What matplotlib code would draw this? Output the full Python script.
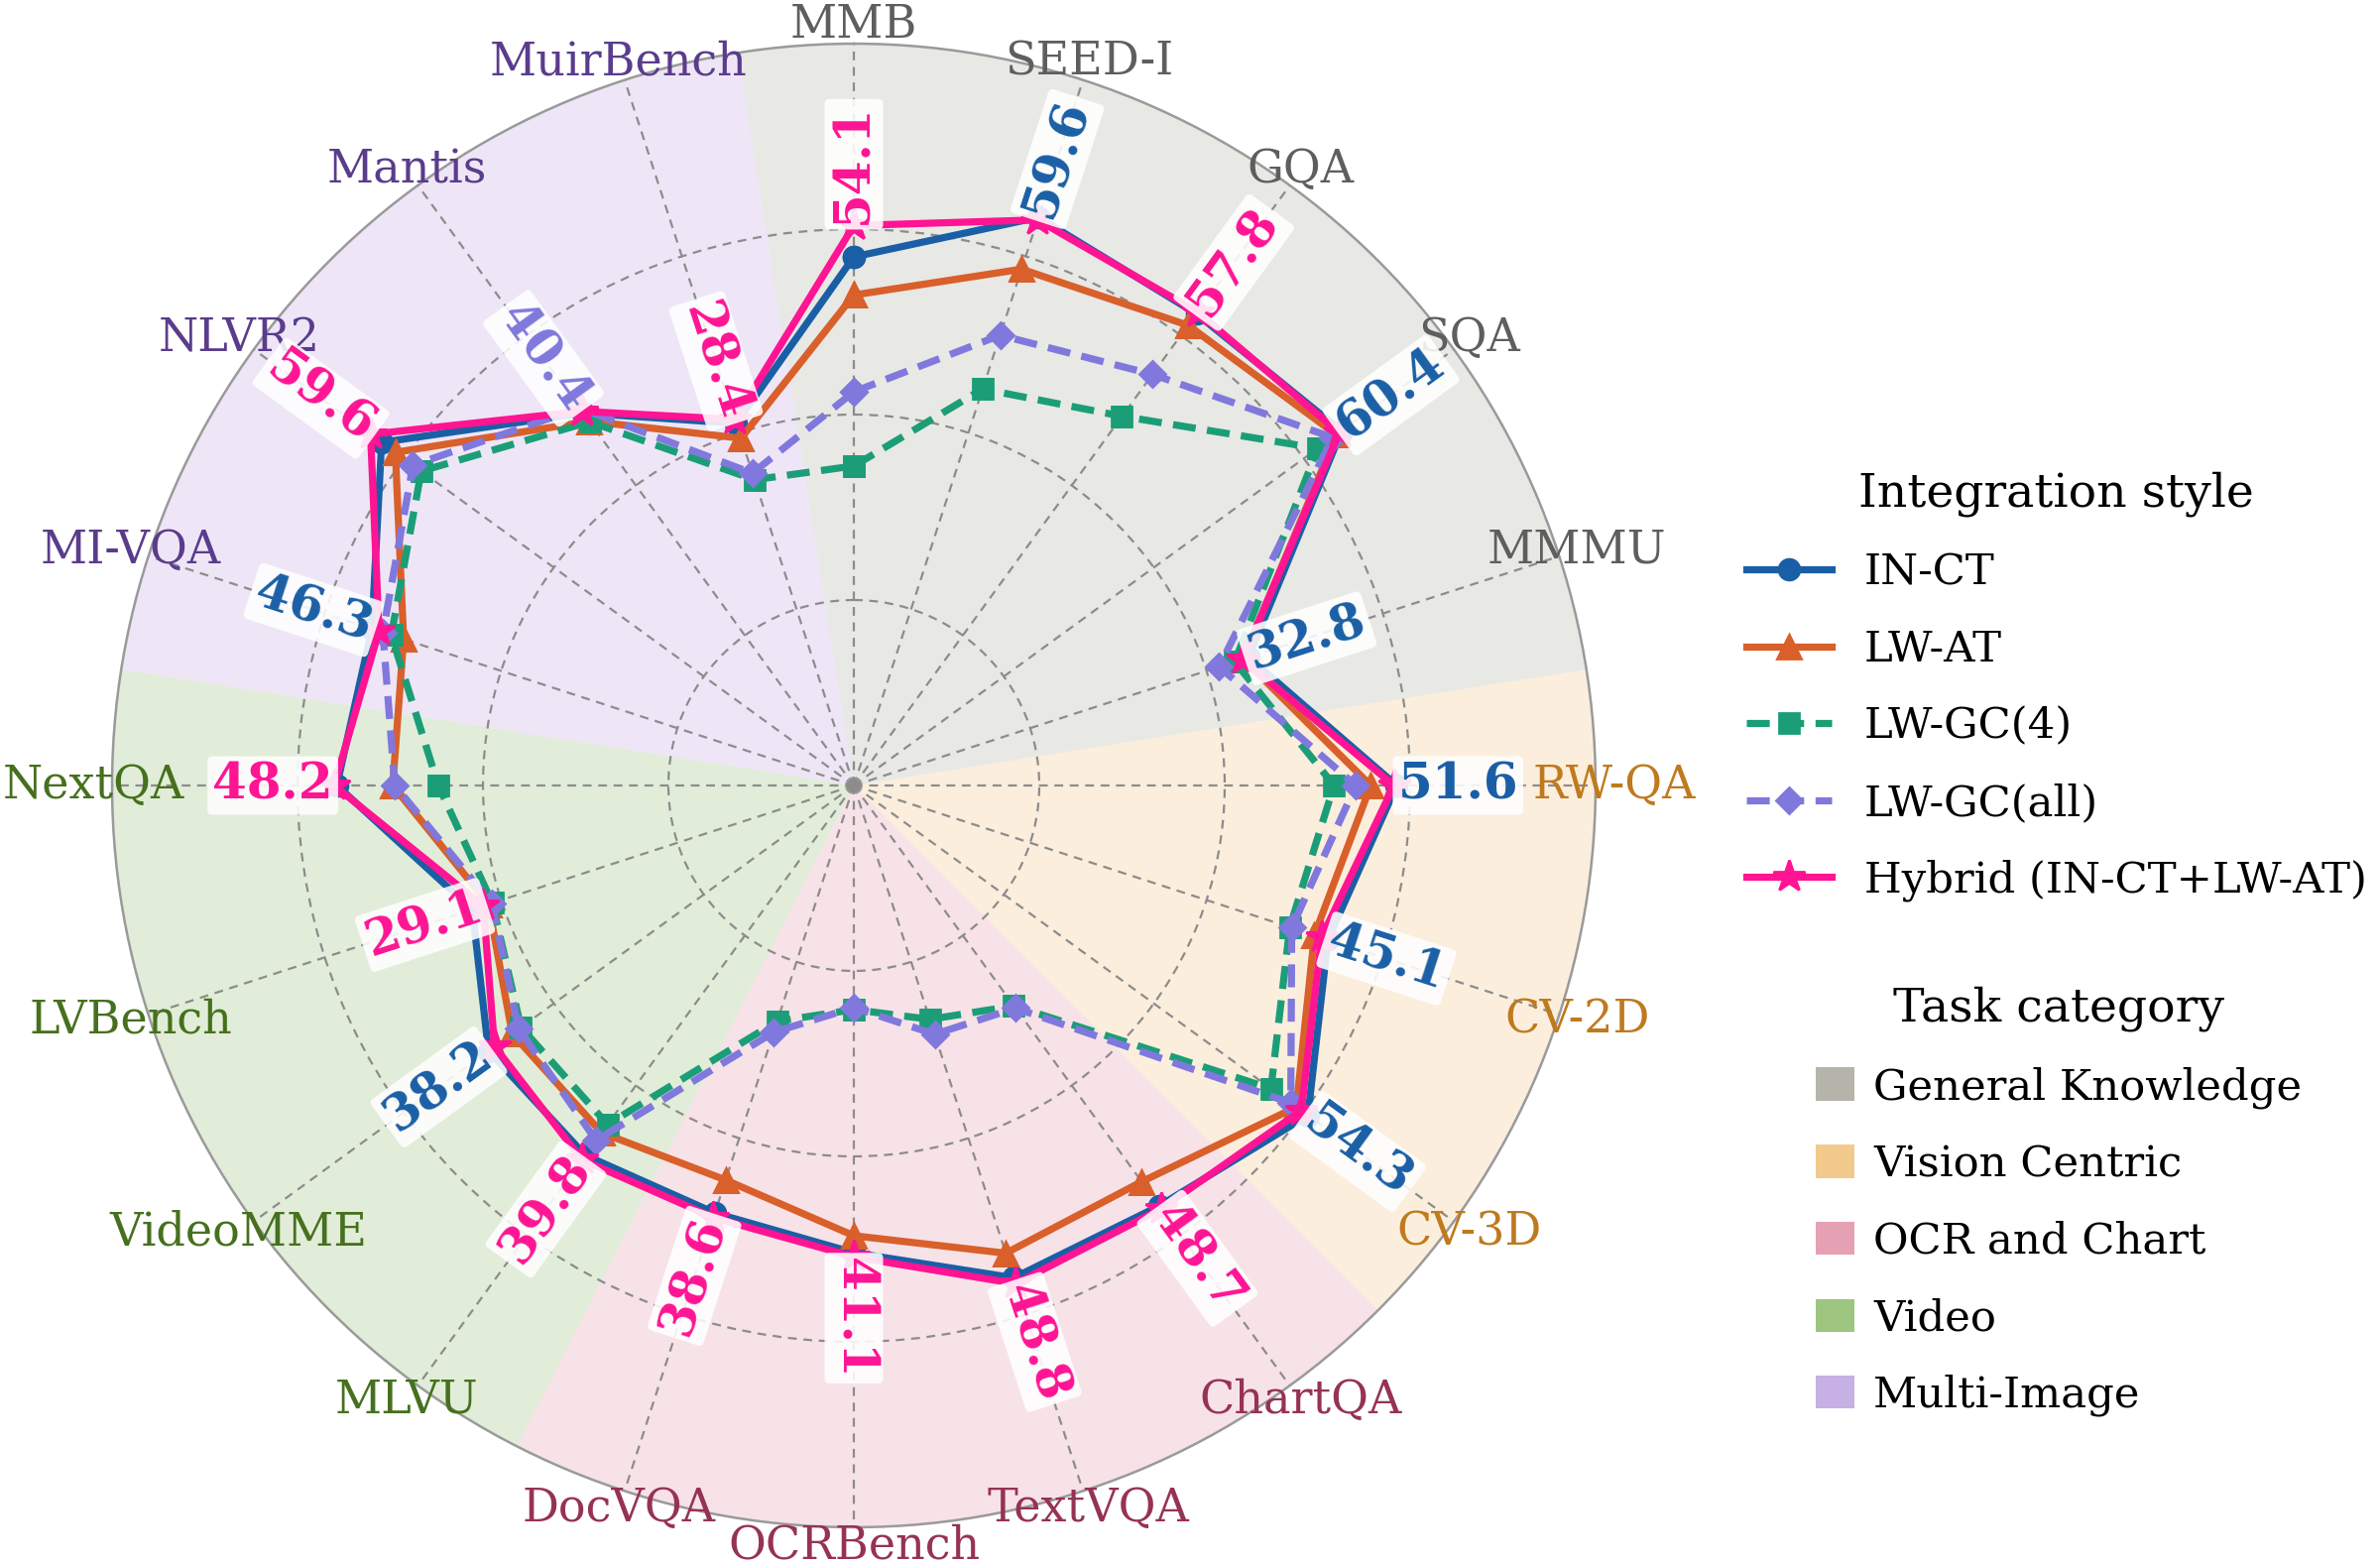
import numpy as np
import matplotlib
matplotlib.use("Agg")
import matplotlib.pyplot as plt
from matplotlib.lines import Line2D
from matplotlib.patches import Patch

plt.rcParams['font.family'] = ['DejaVu Serif']

# ---------------- data ----------------
axes_names = ["MMB", "SEED-I", "GQA", "SQA", "MMMU", "RW-QA", "CV-2D", "CV-3D",
              "ChartQA", "TextVQA", "OCRBench", "DocVQA", "MLVU", "VideoMME",
              "LVBench", "NextQA", "MI-VQA", "NLVR2", "Mantis", "MuirBench"]
axis_category = (["General Knowledge"] * 5 + ["Vision Centric"] * 3 +
                 ["OCR and Chart"] * 4 + ["Video"] * 4 + ["Multi-Image"] * 4)
categories = ["General Knowledge", "Vision Centric", "OCR and Chart", "Video", "Multi-Image"]

series_names = ["IN-CT", "LW-AT", "LW-GC(4)", "LW-GC(all)", "Hybrid (IN-CT+LW-AT)"]
in_ct    = [49.5, 59.6, 57.5, 60.4, 32.8, 51.6, 45.1, 54.3, 48.2, 47.9,
            40.5, 37.9, 39.0, 38.2, 30.8, 47.8, 46.3, 57.6, 39.5, 27.8]
lw_at    = [43.9, 51.6, 55.4, 59.5, 32.0, 47.8, 43.0, 52.2, 43.8, 44.1,
            38.0, 32.8, 34.9, 33.9, 28.3, 39.6, 41.4, 55.1, 38.0, 25.5]
lw_gc4   = [18.8, 33.1, 38.9, 56.1, 30.7, 42.4, 39.2, 47.6, 11.9, 8.0,
            4.8, 8.3, 33.4, 32.3, 27.7, 32.9, 43.3, 50.4, 37.9, 19.1]
lw_gcall = [29.7, 41.4, 46.5, 58.8, 28.3, 45.6, 39.5, 51.2, 12.3, 10.3,
            4.5, 10.0, 36.3, 32.7, 27.8, 39.3, 44.6, 51.9, 40.4, 20.1]
hybrid   = [54.1, 59.2, 57.8, 60.0, 31.9, 51.2, 44.1, 53.1, 48.7, 48.8,
            41.1, 38.6, 39.8, 37.1, 29.1, 48.2, 45.2, 59.6, 39.8, 28.4]
# which series is annotated on each axis (index into series list)
label_series = [4, 0, 4, 0, 0, 0, 0, 0, 4, 4, 4, 4, 4, 0, 4, 4, 0, 4, 3, 4]

# ---------------- styles ----------------
series_vals = [in_ct, lw_at, lw_gc4, lw_gcall, hybrid]
series_colors = ["#1a5fa6", "#d95f2b", "#1b9e77", "#8078dc", "#ff1493"]
series_ls = ["-", "-", (0, (3.2, 1.6)), (0, (3.2, 1.6)), "-"]
series_markers = ["o", "^", "s", "D", "*"]
series_ms = [7.5, 8.5, 7, 6.5, 12]

cat_base = {"General Knowledge": "#a1a195", "Vision Centric": "#efbd6f",
            "OCR and Chart": "#e088a1", "Video": "#86b760", "Multi-Image": "#ba9cdd"}
cat_text = {"General Knowledge": "#5e5e5e", "Vision Centric": "#bf7a1e",
            "OCR and Chart": "#963256", "Video": "#46701e", "Multi-Image": "#5a3c8c"}

lo, hi = -28.1, 80.8
N = len(axes_names)
theta = np.arange(N) * 2 * np.pi / N
step = 2 * np.pi / N

fig = plt.figure(figsize=(12, 7.89), dpi=200)
ax = fig.add_axes([0.0471, 0.0241, 0.6233, 0.948], projection="polar")
ax.set_theta_offset(np.pi / 2)
ax.set_theta_direction(-1)
ax.set_ylim(lo, hi)

# category sectors
for cat in categories:
    idx = [i for i, c in enumerate(axis_category) if c == cat]
    start = theta[idx[0]] - step / 2
    width = step * len(idx)
    ax.bar(start + width / 2, hi - lo, width=width, bottom=lo,
           color=cat_base[cat], alpha=0.245, edgecolor="none", zorder=0)

# grid
ax.set_xticks(theta)
ax.set_xticklabels([])
rt = [lo + (hi - lo) * f for f in (0.25, 0.5, 0.75)]
ax.set_yticks(rt)
ax.set_yticklabels([])
ax.grid(True, color="#8c8c8c", linestyle=(0, (4, 3)), linewidth=0.8)
ax.spines["polar"].set_color("#9a9a9a")
ax.spines["polar"].set_linewidth(0.9)
ax.set_facecolor("none")

# series
for k in range(len(series_names)):
    v = np.array(series_vals[k])
    ax.plot(np.r_[theta, theta[:1]], np.r_[v, v[:1]], color=series_colors[k],
            linestyle=series_ls[k], linewidth=2.6, marker=series_markers[k],
            markersize=series_ms[k], zorder=3 + k, label=series_names[k])

# axis names
for i, name in enumerate(axes_names):
    ax.text(theta[i], lo + 1.025 * (hi - lo), name, ha="center", va="center",
            fontsize=16.6, color=cat_text[axis_category[i]], clip_on=False)

# value annotations
for i in range(N):
    k = label_series[i]
    val = series_vals[k][i]
    deg = np.degrees(theta[i])
    rot = 90 - deg
    if rot < -90:
        rot += 180
    ax.text(theta[i], val + 9, f"{val:.1f}", rotation=rot, rotation_mode="anchor",
            ha="center", va="center", fontsize=18, fontweight="bold",
            color=series_colors[k], zorder=20,
            bbox=dict(boxstyle="round,pad=0.1", fc="white", ec="none", alpha=0.88))

# legends
h1 = [Line2D([0], [0], color=series_colors[k], linestyle=series_ls[k], linewidth=2.6,
             marker=series_markers[k], markersize=series_ms[k]) for k in range(5)]
fig.legend(h1, series_names, loc="center", bbox_to_anchor=(0.864, 0.5615),
           frameon=False, title="Integration style", fontsize=15.6, title_fontsize=17,
           labelspacing=0.82, handlelength=2.0, handletextpad=0.75)
h2 = [Patch(facecolor=cat_base[c], alpha=0.8, edgecolor="none") for c in categories]
fig.legend(h2, categories, loc="center", bbox_to_anchor=(0.865, 0.2326),
           frameon=False, title="Task category", fontsize=15.6, title_fontsize=17,
           labelspacing=0.82, handlelength=0.9, handleheight=0.8, handletextpad=0.45)

fig.savefig("out.png", dpi=200)
